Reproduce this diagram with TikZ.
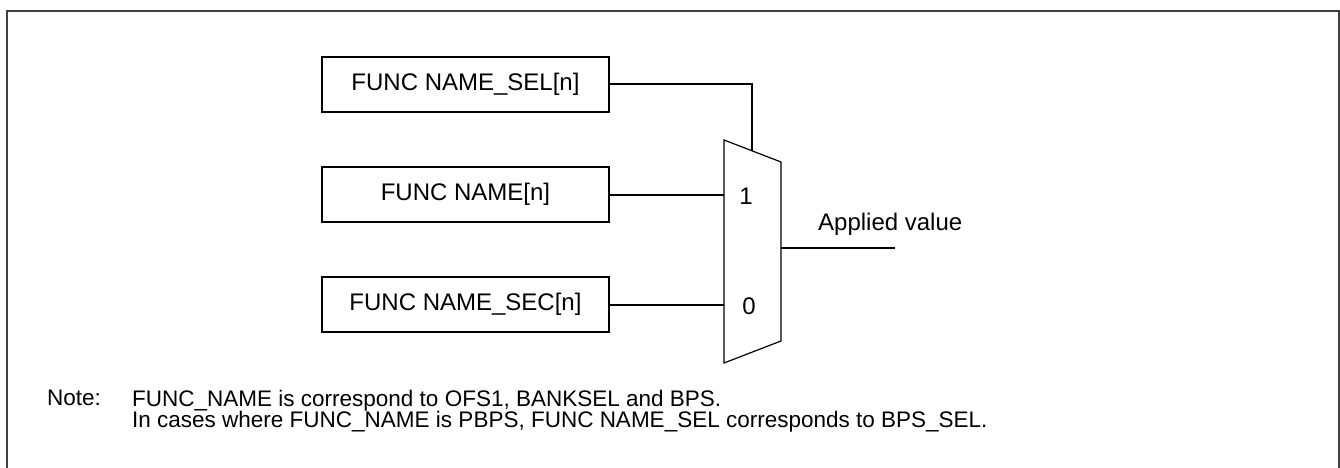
\documentclass[tikz,border=0pt]{standalone}
\usepackage{fontspec}
\setmainfont{Liberation Sans}
\begin{document}
\begin{tikzpicture}[x=1pt,y=-1pt,
		regbox/.style={draw=black,line width=2pt,minimum width=287pt,minimum height=55pt,inner sep=0pt,font=\fontsize{24}{28}\selectfont},
		wire/.style={black,line width=2pt},
		lbl/.style={inner sep=0pt,font=\fontsize{24}{28}\selectfont},
		notetext/.style={inner sep=0pt,align=left,font=\fontsize{22.5}{21}\selectfont}]
		\useasboundingbox (0,0) rectangle (1340,468);
		% outer frame
		\draw [black!75,line width=2pt] (7,468) -- (7,11) -- (1339,11) -- (1339,468);
		% registers
		\node [regbox] (sel) at (465.5,84.5) {FUNC NAME\_SEL[n]};
		\node [regbox] (name) at (465.5,194.5) {FUNC NAME[n]};
		\node [regbox] (sec) at (465.5,304.5) {FUNC NAME\_SEC[n]};
		% selector
		\coordinate (mtl) at (724,140);
		\coordinate (mtr) at (781,162);
		\coordinate (mbr) at (781,341);
		\coordinate (mbl) at (724,363);
		\draw [black,line width=1.2pt] (mtl) -- (mtr) -- (mbr) -- (mbl) -- cycle;
		\node [lbl] (one) at (746,196) {1};
		\node [lbl] (zero) at (749,306) {0};
		\coordinate (selin) at (752,151);
		\coordinate (mout) at (781,248);
		\coordinate (res) at (895,248);
		% connections
		\draw [wire] (sel.east) -| (selin);
		\draw [wire] (name.east) -- (name.east -| mtl);
		\draw [wire] (sec.east) -- (sec.east -| mtl);
		\draw [wire] (mout) -- (res);
		\node [lbl,anchor=base west] (applied) at (818,230) {Applied value};
		% note
		\node [notetext,anchor=north west] (notehead) at (47,390) {Note:};
		\node [notetext,anchor=north west] (notebody) at (132,390) {FUNC\_NAME is correspond to OFS1, BANKSEL and BPS.\\In cases where FUNC\_NAME is PBPS, FUNC NAME\_SEL corresponds to BPS\_SEL.};
\end{tikzpicture}
\end{document}
